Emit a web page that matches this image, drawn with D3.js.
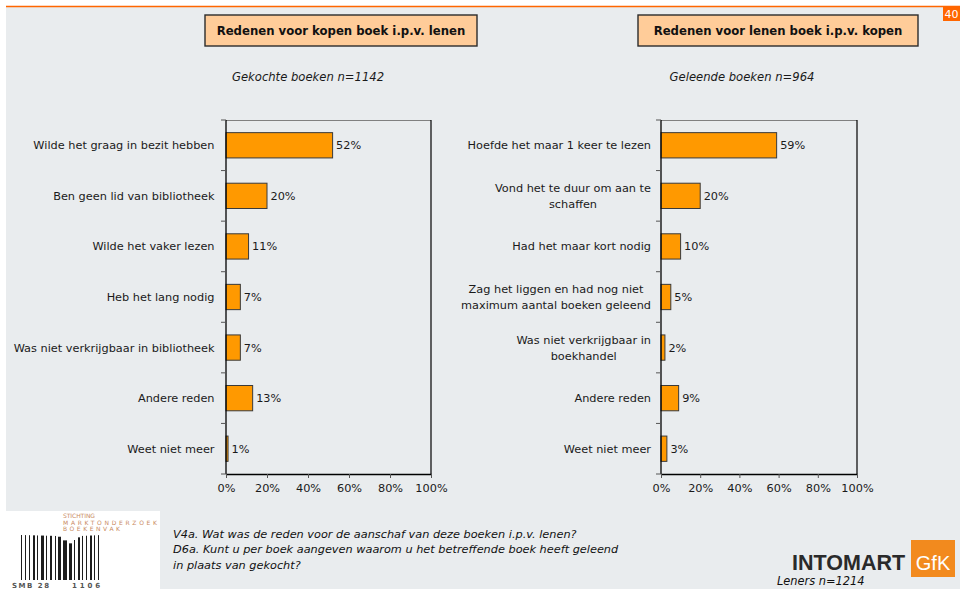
<!DOCTYPE html>
<html>
<head>
<meta charset="utf-8">
<script src="https://cdn.jsdelivr.net/npm/d3@7"></script>
<style>
  html, body { margin: 0; padding: 0; background: #ffffff; }
  svg { display: block; font-family: "DejaVu Sans", Verdana, sans-serif; }
</style>
</head>
<body>
<svg id="chart" width="960" height="589"></svg>
<script>
// Reasons for buying a book instead of borrowing it
const buyTitle = "Redenen voor kopen boek i.p.v. lenen";
const buySubtitle = "Gekochte boeken n=1142";
const buyCategories = [
  "Wilde het graag in bezit hebben",
  "Ben geen lid van bibliotheek",
  "Wilde het vaker lezen",
  "Heb het lang nodig",
  "Was niet verkrijgbaar in bibliotheek",
  "Andere reden",
  "Weet niet meer"
];
const buyValues = [52, 20, 11, 7, 7, 13, 1];

// Reasons for borrowing a book instead of buying it
const lendTitle = "Redenen voor lenen boek i.p.v. kopen";
const lendSubtitle = "Geleende boeken n=964";
const lendCategories = [
  "Hoefde het maar 1 keer te lezen",
  "Vond het te duur om aan te\nschaffen",
  "Had het maar kort nodig",
  "Zag het liggen en had nog niet\nmaximum aantal boeken geleend",
  "Was niet verkrijgbaar in\nboekhandel",
  "Andere reden",
  "Weet niet meer"
];
const lendValues = [59, 20, 10, 5, 2, 9, 3];

const xTickValues = [0, 20, 40, 60, 80, 100];

const footerLines = [
  "V4a. Wat was de reden voor de aanschaf van deze boeken i.p.v. lenen?",
  "D6a. Kunt u per boek aangeven waarom u het betreffende boek heeft geleend",
  "in plaats van gekocht?"
];
const footerNote = "Leners n=1214";
const pageNumber = "40";

const svg = d3.select("#chart");
const W = 960, H = 589;

// ---- page background ----
svg.append("rect").attr("x", 0).attr("y", 0).attr("width", W).attr("height", H).attr("fill", "#ffffff");
svg.append("rect").attr("x", 6).attr("y", 7).attr("width", W - 6).attr("height", H - 7).attr("fill", "#e9ecee");
svg.append("line").attr("x1", 6).attr("x2", W).attr("y1", 6.5).attr("y2", 6.5)
  .attr("stroke", "#ff6600").attr("stroke-width", 1.6);
svg.append("rect").attr("x", 943).attr("y", 7).attr("width", 17).attr("height", 14).attr("fill", "#ff6600");
svg.append("text").attr("x", 951.5).attr("y", 18).attr("text-anchor", "middle")
  .attr("font-size", 11).attr("fill", "#ffffff").text(pageNumber);

// ---- one bar panel ----
function drawPanel(opts) {
  const g = svg.append("g");
  const x = d3.scaleLinear().domain([0, 100]).range([opts.x0, opts.x1]);
  const y = d3.scaleBand().domain(opts.categories).range([opts.y0, opts.y1])
    .paddingInner(0.5).paddingOuter(0.25);

  // title box
  g.append("rect")
    .attr("x", opts.box[0]).attr("y", opts.box[1])
    .attr("width", opts.box[2]).attr("height", opts.box[3])
    .attr("fill", "#ffcc99").attr("stroke", "#2b2b2b").attr("stroke-width", 1.4);
  g.append("text")
    .attr("x", opts.box[0] + opts.box[2] / 2).attr("y", opts.box[1] + opts.box[3] / 2 + 4.3)
    .attr("text-anchor", "middle").attr("font-size", 11.7).attr("font-weight", "bold")
    .attr("fill", "#111").text(opts.title);

  // subtitle
  g.append("text")
    .attr("x", opts.subX).attr("y", 81)
    .attr("text-anchor", "middle").attr("font-size", 11.6).attr("font-style", "italic")
    .attr("fill", "#1a1a1a").text(opts.subtitle);

  // plot frame: top and right border
  g.append("line").attr("x1", opts.x0).attr("x2", opts.x1).attr("y1", opts.y0 + 0.5).attr("y2", opts.y0 + 0.5)
    .attr("stroke", "#808080").attr("stroke-width", 1);
  g.append("line").attr("x1", opts.x1).attr("x2", opts.x1).attr("y1", opts.y0).attr("y2", opts.y1)
    .attr("stroke", "#000").attr("stroke-width", 1.2);

  // bars
  g.selectAll("rect.bar").data(opts.values).join("rect")
    .attr("class", "bar")
    .attr("x", x(0))
    .attr("y", (d, i) => y(opts.categories[i]))
    .attr("width", d => x(d) - x(0))
    .attr("height", y.bandwidth())
    .attr("fill", "#ff9900").attr("stroke", "#3a3a3a").attr("stroke-width", 1);

  // value labels
  g.selectAll("text.val").data(opts.values).join("text")
    .attr("class", "val")
    .attr("x", d => x(d) + 3.5)
    .attr("y", (d, i) => y(opts.categories[i]) + y.bandwidth() / 2 + 4)
    .attr("font-size", 11.3).attr("fill", "#1a1a1a")
    .text(d => d + "%");

  // y axis line and ticks at band boundaries
  const boundaries = d3.range(opts.categories.length + 1).map(i => opts.y0 + i * y.step());
  g.append("line").attr("x1", opts.x0).attr("x2", opts.x0).attr("y1", opts.y0).attr("y2", opts.y1)
    .attr("stroke", "#000").attr("stroke-width", 1.3);
  g.selectAll("line.ytick").data(boundaries).join("line")
    .attr("class", "ytick")
    .attr("x1", opts.x0 - 5).attr("x2", opts.x0)
    .attr("y1", d => d).attr("y2", d => d)
    .attr("stroke", "#555").attr("stroke-width", 1);

  // x axis
  const xAxis = d3.axisBottom(x).tickValues(xTickValues).tickFormat(d => d + "%")
    .tickSize(4).tickSizeOuter(0);
  const ax = g.append("g").attr("transform", `translate(0,${opts.y1})`).call(xAxis);
  ax.attr("font-family", null).attr("font-size", null);
  ax.select(".domain").attr("stroke", "#000").attr("stroke-width", 1.3);
  ax.selectAll(".tick line").attr("stroke", "#555");
  ax.selectAll(".tick text").attr("font-size", 11.3).attr("fill", "#1a1a1a")
    .attr("dy", "0.85em").attr("y", 8);

  // category labels (multi-line labels are centred within a right-aligned block)
  opts.categories.forEach(cat => {
    const lines = cat.split("\n");
    const cy = y(cat) + y.bandwidth() / 2;
    const lh = 16;
    const t = g.append("text").attr("font-size", 11.3).attr("fill", "#1a1a1a");
    const spans = lines.map((ln, k) => t.append("tspan")
      .attr("y", cy + 4 + (k - (lines.length - 1) / 2) * lh).text(ln));
    const widths = spans.map(s => s.node().getComputedTextLength());
    const maxW = d3.max(widths);
    spans.forEach(s => s.attr("x", opts.labelRight - maxW / 2).attr("text-anchor", "middle"));
  });
}

drawPanel({
  title: buyTitle, subtitle: buySubtitle,
  categories: buyCategories, values: buyValues,
  x0: 226, x1: 431, y0: 120, y1: 474,
  box: [205, 15, 272, 31], subX: 308, labelRight: 214.5
});

drawPanel({
  title: lendTitle, subtitle: lendSubtitle,
  categories: lendCategories, values: lendValues,
  x0: 661, x1: 857, y0: 120, y1: 474,
  box: [638, 15, 280, 31], subX: 742, labelRight: 651
});

// ---- footer: question texts ----
svg.append("g").selectAll("text").data(footerLines).join("text")
  .attr("x", 173).attr("y", (d, i) => 537.5 + i * 15.8)
  .attr("font-size", 11.3).attr("font-style", "italic").attr("fill", "#111")
  .text(d => d);

svg.append("text").attr("x", 777).attr("y", 585)
  .attr("font-size", 11.4).attr("font-style", "italic").attr("fill", "#111").text(footerNote);

// ---- Intomart GfK logo ----
svg.append("text").attr("x", 792).attr("y", 570)
  .style("font-family", "'Liberation Sans', Arial, sans-serif").attr("font-weight", "bold")
  .attr("font-size", 21.5).attr("fill", "#2a2a2a").text("INTOMART");
svg.append("rect").attr("x", 911).attr("y", 540).attr("width", 44).attr("height", 37).attr("fill", "#f28a1e");
svg.append("text").attr("x", 933).attr("y", 569.5).attr("text-anchor", "middle")
  .style("font-family", "'Liberation Sans', Arial, sans-serif")
  .attr("font-size", 20).attr("fill", "#ffffff").text("GfK");

// ---- SMB logo (white tile with barcode) ----
const logo = svg.append("g");
logo.append("rect").attr("x", 0).attr("y", 511).attr("width", 160).attr("height", 78).attr("fill", "#ffffff");
const smbWords = [["STICHTING", 518, 32], ["MARKTONDERZOEK", 524.5, 94], ["BOEKENVAK", 531, 57]];
logo.selectAll("text.smb").data(smbWords).join("text")
  .attr("class", "smb")
  .attr("x", 63).attr("y", d => d[1])
  .attr("textLength", d => d[2]).attr("lengthAdjust", "spacing")
  .attr("font-size", 6).attr("fill", "#c98a62").text(d => d[0]);

// barcode stripes: [width, gap] pairs; the middle ones dip down to form a book shape
const barcodeStripes = [1, 2, 1, 2, 1, 2, 2, 1, 1, 2, 3, 1, 1, 2, 2, 2, 1, 1, 3, 1, 4, 1, 3, 1, 1, 2, 2, 1, 1, 2, 1, 2, 2, 1, 1, 2, 1, 1];
let bx = 21;
const stripes = [];
for (let i = 0; i < barcodeStripes.length; i += 2) {
  stripes.push({ x: bx, w: barcodeStripes[i] });
  bx += barcodeStripes[i] + barcodeStripes[i + 1] + 1;
}
const dip = d3.scaleLinear().domain([21, 57, 68, 80, bx]).range([535, 536, 544, 536, 535]).clamp(true);
logo.selectAll("rect.bc").data(stripes).join("rect")
  .attr("class", "bc")
  .attr("x", d => d.x).attr("width", d => d.w)
  .attr("y", d => dip(d.x)).attr("height", d => 580 - dip(d.x))
  .attr("fill", "#1e1e1e");
logo.append("text").attr("x", 12).attr("y", 588).attr("font-size", 7).attr("font-weight", "bold")
  .attr("textLength", 37).attr("lengthAdjust", "spacing").attr("fill", "#555").text("SMB 28");
logo.append("text").attr("x", 72).attr("y", 588).attr("font-size", 7).attr("font-weight", "bold")
  .attr("textLength", 28).attr("lengthAdjust", "spacing").attr("fill", "#555").text("1106");
</script>
</body>
</html>
